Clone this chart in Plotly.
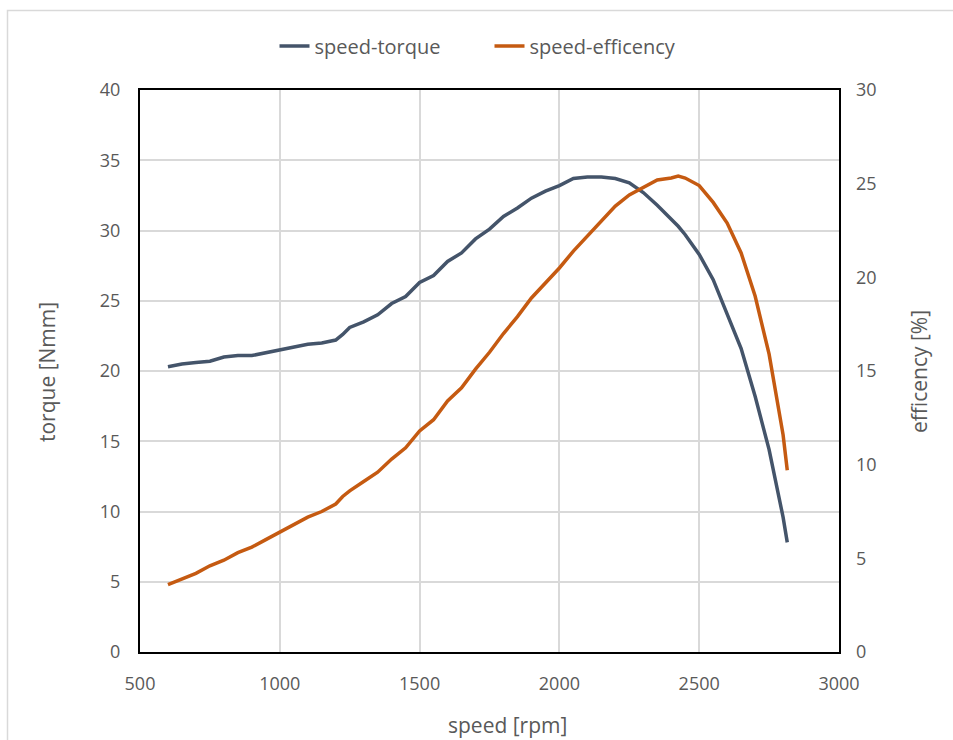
import plotly.graph_objects as go

speed_rpm = [600, 650, 700, 750, 800, 850, 900, 950, 1000, 1050, 1100, 1150, 1200, 1225,
             1250, 1300, 1350, 1400, 1450, 1500, 1550, 1600, 1650, 1700, 1750, 1800,
             1850, 1900, 1950, 2000, 2050, 2100, 2150, 2200, 2250, 2300, 2350, 2400,
             2425, 2450, 2500, 2550, 2600, 2650, 2700, 2750, 2800, 2815]

torque_nmm = [20.3, 20.5, 20.6, 20.7, 21.0, 21.1, 21.1, 21.3, 21.5, 21.7, 21.9, 22.0, 22.2, 22.6,
              23.1, 23.5, 24.0, 24.8, 25.3, 26.3, 26.8, 27.8, 28.4, 29.4, 30.1, 31.0,
              31.6, 32.3, 32.8, 33.2, 33.7, 33.8, 33.8, 33.7, 33.4, 32.7, 31.8, 30.8,
              30.3, 29.7, 28.3, 26.5, 24.0, 21.6, 18.2, 14.4, 9.6, 7.8]

efficiency_pct = [3.6, 3.9, 4.2, 4.6, 4.9, 5.3, 5.6, 6.0, 6.4, 6.8, 7.2, 7.5, 7.9, 8.3,
                  8.6, 9.1, 9.6, 10.3, 10.9, 11.8, 12.4, 13.4, 14.1, 15.1, 16.0, 17.0,
                  17.9, 18.9, 19.7, 20.5, 21.4, 22.2, 23.0, 23.8, 24.4, 24.8, 25.2, 25.3,
                  25.4, 25.3, 24.9, 24.0, 22.9, 21.3, 19.0, 15.9, 11.6, 9.7]

x_ticks = [500, 1000, 1500, 2000, 2500, 3000]
y_left_ticks = [0, 5, 10, 15, 20, 25, 30, 35, 40]
y_right_ticks = [0, 5, 10, 15, 20, 25, 30]

FONT = "Open Sans"
TXT = "#595959"
GRID = "#d9d9d9"
BLUE = "#44546A"
ORANGE = "#C55A11"

W, H = 953, 740
L, R, T, B = 140, 953 - 839, 90, 740 - 652
pw, ph = W - L - R, H - T - B

fig = go.Figure()
fig.add_trace(go.Scatter(x=speed_rpm, y=torque_nmm, mode="lines", name="speed-torque",
                         line=dict(color=BLUE, width=3.5), yaxis="y"))
fig.add_trace(go.Scatter(x=speed_rpm, y=efficiency_pct, mode="lines", name="speed-efficency",
                         line=dict(color=ORANGE, width=3.5), yaxis="y2"))

def px_x(px):
    return (px - L) / pw

def px_y(py):
    return (H - B - py) / ph

fig.update_layout(
    width=W, height=H,
    margin=dict(l=L, r=R, t=T, b=B, pad=0),
    paper_bgcolor="white", plot_bgcolor="white",
    font=dict(family=FONT, color=TXT, size=18),
    showlegend=True,
    legend=dict(orientation="h", x=0.5, xanchor="center", y=px_y(46), yanchor="middle",
                font=dict(size=20, color=TXT, family=FONT), bgcolor="rgba(0,0,0,0)",
                itemwidth=30, entrywidth=170, entrywidthmode="pixels"),
    xaxis=dict(range=[500, 3000], tickvals=x_ticks, showgrid=True, gridcolor=GRID, gridwidth=1.5,
               showline=True, linecolor="black", linewidth=2, mirror=True, zeroline=False,
               ticks="", ticklabelstandoff=14, tickfont=dict(size=18, color=TXT, family=FONT)),
    yaxis=dict(range=[0, 40], tickvals=y_left_ticks, showgrid=True, gridcolor=GRID, gridwidth=1.5,
               showline=True, linecolor="black", linewidth=2, mirror=True, zeroline=False,
               ticks="", ticklabelstandoff=14, tickfont=dict(size=18, color=TXT, family=FONT)),
    yaxis2=dict(range=[0, 30], tickvals=y_right_ticks, overlaying="y", side="right",
                showgrid=False, zeroline=False, showline=False,
                ticks="", ticklabelstandoff=16, tickfont=dict(size=18, color=TXT, family=FONT)),
    annotations=[
        dict(text="torque [Nmm]", xref="paper", yref="paper", x=px_x(47), y=px_y(372),
             textangle=-90, showarrow=False, xanchor="center", yanchor="middle",
             font=dict(size=21, color=TXT, family=FONT)),
        dict(text="efficency [%]", xref="paper", yref="paper", x=px_x(919), y=px_y(372),
             textangle=-90, showarrow=False, xanchor="center", yanchor="middle",
             font=dict(size=21, color=TXT, family=FONT)),
        dict(text="speed [rpm]", xref="paper", yref="paper", x=px_x(507), y=px_y(725),
             showarrow=False, xanchor="center", yanchor="middle",
             font=dict(size=21, color=TXT, family=FONT)),
    ],
    shapes=[
        dict(type="rect", xref="paper", yref="paper", x0=px_x(7.5), x1=px_x(960),
             y0=px_y(760), y1=px_y(10.5), line=dict(color=GRID, width=1.5), layer="below"),
    ],
)

fig.write_html("out.html", config={"displayModeBar": False},
               post_script="document.body.style.margin='0';")
